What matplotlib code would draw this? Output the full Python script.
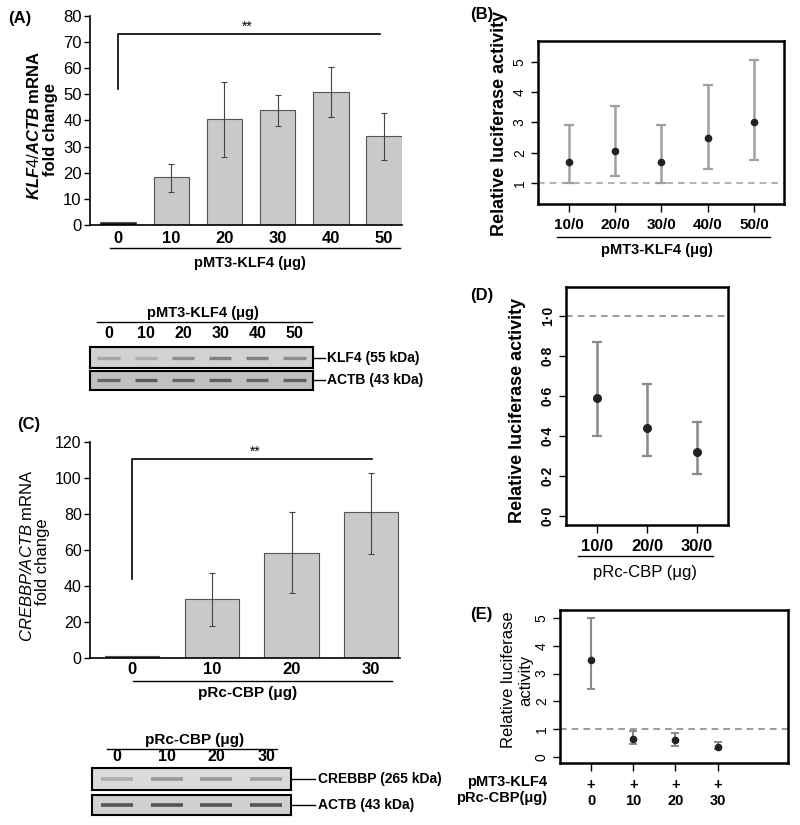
import matplotlib
matplotlib.use("Agg")
import matplotlib.pyplot as plt
from matplotlib.lines import Line2D
import numpy as np

plt.rcParams['font.family'] = ['Liberation Sans', 'DejaVu Sans']
plt.rcParams['mathtext.fontset'] = 'custom'
plt.rcParams['mathtext.it'] = 'Liberation Sans:italic:bold'
plt.rcParams['mathtext.sf'] = 'Liberation Sans:italic'
plt.rcParams['mathtext.rm'] = 'Liberation Sans'

# ---------------- data ----------------
a_doses = ['0', '10', '20', '30', '40', '50']
a_mean = [1, 18.3, 40.5, 44, 51, 34]
a_low = [np.nan, 12.5, 26, 38, 41.5, 25]
a_high = [np.nan, 23.5, 54.7, 49.7, 60.3, 43]

b_labels = ['10/0', '20/0', '30/0', '40/0', '50/0']
b_mean = [1.7, 2.07, 1.7, 2.5, 3.0]
b_low = [1.0, 1.22, 1.0, 1.45, 1.75]
b_high = [2.9, 3.55, 2.9, 4.25, 5.07]

c_doses = ['0', '10', '20', '30']
c_mean = [1, 33, 58.5, 81]
c_low = [np.nan, 18, 36, 58]
c_high = [np.nan, 47.5, 81, 103]

d_labels = ['10/0', '20/0', '30/0']
d_mean = [0.59, 0.44, 0.32]
d_low = [0.40, 0.30, 0.21]
d_high = [0.87, 0.66, 0.47]

e_klf4 = ['+', '+', '+', '+']
e_cbp = ['0', '10', '20', '30']
e_mean = [3.5, 0.65, 0.6, 0.37]
e_low = [2.45, 0.45, 0.4, 0.27]
e_high = [5.0, 0.95, 0.85, 0.52]

# western blot band intensities (0..1)
klf4_band = [0.25, 0.2, 0.45, 0.55, 0.55, 0.45]
actb_a_band = [0.75, 0.85, 0.75, 0.8, 0.75, 0.8]
crebbp_band = [0.2, 0.35, 0.35, 0.3]
actb_c_band = [0.9, 0.9, 0.9, 0.9]

W, H = 800, 825
fig = plt.figure(figsize=(8, 8.25), dpi=100)


def pax(x0, y0, x1, y1):
    return fig.add_axes([x0 / W, 1 - y1 / H, (x1 - x0) / W, (y1 - y0) / H])


def ftext(x, y, s, **kw):
    kw.setdefault('ha', 'center')
    kw.setdefault('va', 'center')
    fig.text(x / W, 1 - y / H, s, **kw)


def fline(x0, x1, y, lw=1.0):
    fig.add_artist(Line2D([x0 / W, x1 / W], [1 - y / H, 1 - y / H], color='k', lw=lw))


def err(mean, low, high):
    m = np.array(mean, float)
    return [m - np.array(low, float), np.array(high, float) - m]


# ---------------- Panel A ----------------
axA = pax(90, 16, 402, 225)
xa = np.arange(len(a_doses))
axA.bar(xa, a_mean, width=0.67, color=['#1a1a1a'] + ['#c9c9c9'] * 5,
        edgecolor='#555555', linewidth=0.8)
axA.errorbar(xa, a_mean, yerr=err(a_mean, a_low, a_high), fmt='none',
             ecolor='#444444', elinewidth=0.8, capsize=2.5, capthick=0.8)
axA.set_xlim(-0.53, 5.34)
axA.set_ylim(0, 80)
axA.set_yticks(range(0, 81, 10))
axA.set_xticks(xa, a_doses, fontweight='bold', fontsize=12)
axA.tick_params(axis='x', length=0, pad=4)
axA.tick_params(axis='y', length=4, width=1, labelsize=12, pad=2)
for s in ['top', 'right']:
    axA.spines[s].set_visible(False)
axA.spines['left'].set_linewidth(1.2)
axA.spines['bottom'].set_linewidth(1.2)
axA.plot([0, 0, 4.93], [52, 73, 73], color='k', lw=1.2, clip_on=False)
axA.text(2.43, 73.3, '**', ha='center', va='bottom', fontsize=10)
ftext(34, 125, r'$\mathit{KLF4/ACTB}$ mRNA', rotation=90, fontweight='bold', fontsize=12)
ftext(50, 129, 'fold change', rotation=90, fontweight='bold', fontsize=12)
fline(110, 400, 248)
ftext(250, 263, 'pMT3-KLF4 (μg)', fontweight='bold', fontsize=10.5)
ftext(8, 19, '(A)', ha='left', fontweight='bold', fontsize=12)

# ---------------- Panel B ----------------
axB = pax(538, 41, 784, 204)
xb = np.arange(1, len(b_labels) + 1)
axB.axhline(1, color='#a5a5a5', ls=(0, (4, 3)), lw=1.2)
axB.errorbar(xb, b_mean, yerr=err(b_mean, b_low, b_high), fmt='none',
             ecolor='#a0a0a0', elinewidth=1.8, capsize=3.5, capthick=1.6)
axB.plot(xb, b_mean, 'o', color='#222222', ms=4.5)
axB.set_xlim(0.33, 5.65)
axB.set_ylim(0.306, 5.69)
axB.set_yticks(range(1, 6))
axB.set_yticklabels([str(v) for v in range(1, 6)], rotation=90, va='center', fontsize=10)
axB.set_xticks(xb, b_labels, fontweight='bold', fontsize=11)
axB.tick_params(axis='y', length=5, width=1, pad=3)
axB.tick_params(axis='x', length=6, width=1, pad=4)
for s in axB.spines.values():
    s.set_linewidth(1.8)
ftext(500, 123, 'Relative luciferase activity', rotation=90, fontweight='bold', fontsize=13)
fline(557, 770, 237)
ftext(657, 250, 'pMT3-KLF4 (μg)', fontweight='bold', fontsize=10.5)
ftext(470, 15, '(B)', ha='left', fontweight='bold', fontsize=12)

# ---------------- Western blot A ----------------
lanesA = np.arange(len(a_doses))
blotA1 = pax(90, 347, 313, 368)
blotA2 = pax(90, 371, 313, 390)
for ax, bands, bg in [(blotA1, klf4_band, '#d2d2d2'), (blotA2, actb_a_band, '#c0c0c0')]:
    ax.set_facecolor(bg)
    ax.set_xlim(-0.5, len(bands) - 0.5)
    ax.set_ylim(-1, 1)
    for i, v in enumerate(bands):
        g = 0.78 - 0.5 * v
        ax.hlines(0, i - 0.3, i + 0.3, color=(g, g, g), lw=2.4)
    ax.set_yticks([])
    for s in ax.spines.values():
        s.set_linewidth(1.5)
blotA2.set_xticks([])
blotA1.xaxis.tick_top()
blotA1.set_xticks(lanesA, a_doses, fontweight='bold', fontsize=11.5)
blotA1.tick_params(axis='x', length=0, pad=4)
fline(97, 312, 322)
ftext(203, 313, 'pMT3-KLF4 (μg)', fontweight='bold', fontsize=10.5)
fline(313, 325, 358)
ftext(327, 358, 'KLF4 (55 kDa)', ha='left', fontweight='bold', fontsize=10)
fline(313, 325, 380)
ftext(327, 380, 'ACTB (43 kDa)', ha='left', fontweight='bold', fontsize=10)

# ---------------- Panel C ----------------
axC = pax(90, 442, 400, 658)
xc = np.arange(len(c_doses))
axC.bar(xc, c_mean, width=0.68, color=['#1a1a1a'] + ['#c9c9c9'] * 3,
        edgecolor='#555555', linewidth=0.8)
axC.errorbar(xc, c_mean, yerr=err(c_mean, c_low, c_high), fmt='none',
             ecolor='#444444', elinewidth=0.8, capsize=2.5, capthick=0.8)
axC.set_xlim(-0.527, 3.36)
axC.set_ylim(0, 120)
axC.set_yticks(range(0, 121, 20))
axC.set_xticks(xc, c_doses, fontweight='bold', fontsize=12)
axC.tick_params(axis='x', length=0, pad=3)
axC.tick_params(axis='y', length=4, width=1, labelsize=11.5, pad=2)
for s in ['top', 'right']:
    axC.spines[s].set_visible(False)
axC.spines['left'].set_linewidth(1.2)
axC.spines['bottom'].set_linewidth(1.2)
axC.plot([0, 0, 3.01], [44, 110.5, 110.5], color='k', lw=1.2, clip_on=False)
axC.text(1.54, 110.8, '**', ha='center', va='bottom', fontsize=10)
ftext(27, 556, r'$\mathsf{CREBBP/ACTB}$ mRNA', rotation=90, fontsize=12)
ftext(43, 562, 'fold change', rotation=90, fontsize=12)
fline(133, 392, 681)
ftext(248, 693, 'pRc-CBP (μg)', fontweight='bold', fontsize=11)
ftext(17, 425, '(C)', ha='left', fontweight='bold', fontsize=12)

# ---------------- Western blot C ----------------
lanesC = np.arange(len(c_doses))
blotC1 = pax(92, 768, 291, 790)
blotC2 = pax(92, 795, 291, 815)
for ax, bands, bg in [(blotC1, crebbp_band, '#dadada'), (blotC2, actb_c_band, '#d0d0d0')]:
    ax.set_facecolor(bg)
    ax.set_xlim(-0.5, len(bands) - 0.5)
    ax.set_ylim(-1, 1)
    for i, v in enumerate(bands):
        g = 0.78 - 0.5 * v
        ax.hlines(0, i - 0.32, i + 0.32, color=(g, g, g), lw=2.6)
    ax.set_yticks([])
    for s in ax.spines.values():
        s.set_linewidth(1.5)
blotC2.set_xticks([])
blotC1.xaxis.tick_top()
blotC1.set_xticks(lanesC, c_doses, fontweight='bold', fontsize=11.5)
blotC1.tick_params(axis='x', length=0, pad=3)
fline(107, 277, 749)
ftext(195, 740, 'pRc-CBP (μg)', fontweight='bold', fontsize=11)
fline(291, 315, 779)
ftext(318, 779, 'CREBBP (265 kDa)', ha='left', fontweight='bold', fontsize=10)
fline(291, 315, 805)
ftext(318, 805, 'ACTB (43 kDa)', ha='left', fontweight='bold', fontsize=10)

# ---------------- Panel D ----------------
axD = pax(566, 287, 728, 525)
xd = np.arange(1, len(d_labels) + 1)
axD.axhline(1, color='#8a8a8a', ls=(0, (4, 3)), lw=1.2)
axD.errorbar(xd, d_mean, yerr=err(d_mean, d_low, d_high), fmt='none',
             ecolor='#8a8a8a', elinewidth=1.8, capsize=3.5, capthick=1.6)
axD.plot(xd, d_mean, 'o', color='#222222', ms=5.5)
axD.set_xlim(0.38, 3.62)
axD.set_ylim(-0.045, 1.145)
dticks = np.arange(0, 1.01, 0.2)
axD.set_yticks(dticks)
axD.set_yticklabels([f'{v:.1f}'.replace('.', '·') for v in dticks], rotation=90,
                    va='center', fontsize=10, fontweight='bold')
axD.set_xticks(xd, d_labels, fontweight='bold', fontsize=12)
axD.tick_params(axis='y', length=5, width=1, pad=3)
axD.tick_params(axis='x', length=6, width=1, pad=4)
for s in axD.spines.values():
    s.set_linewidth(1.8)
ftext(517, 410, 'Relative luciferase activity', rotation=90, fontweight='bold', fontsize=13)
fline(578, 713, 556)
ftext(645, 572, 'pRc-CBP (μg)', fontsize=12)
ftext(470, 295, '(D)', ha='left', fontweight='bold', fontsize=12)

# ---------------- Panel E ----------------
axE = pax(560, 610, 788, 763)
xe = np.arange(1, len(e_cbp) + 1)
axE.axhline(1, color='#8a8a8a', ls=(0, (4, 3)), lw=1.2)
axE.errorbar(xe, e_mean, yerr=err(e_mean, e_low, e_high), fmt='none',
             ecolor='#8a8a8a', elinewidth=1.5, capsize=3, capthick=1.4)
axE.plot(xe, e_mean, 'o', color='#222222', ms=4.5)
axE.set_xlim(0.26, 5.67)
axE.set_ylim(-0.22, 5.29)
axE.set_yticks(range(0, 6))
axE.set_yticklabels([str(v) for v in range(0, 6)], rotation=90, va='center', fontsize=10)
axE.set_xticks(xe, [f'{k}\n{c}' for k, c in zip(e_klf4, e_cbp)],
               fontweight='bold', fontsize=10.5, linespacing=1.2)
axE.tick_params(axis='y', length=5, width=1, pad=3)
axE.tick_params(axis='x', length=6, width=1, pad=5)
for s in axE.spines.values():
    s.set_linewidth(1.8)
ftext(517, 680, 'Relative luciferase\nactivity', rotation=90, fontsize=12, multialignment='center')
ftext(547, 782, 'pMT3-KLF4', ha='right', fontweight='bold', fontsize=10.5)
ftext(547, 798, 'pRc-CBP(μg)', ha='right', fontweight='bold', fontsize=10.5)
ftext(470, 615, '(E)', ha='left', fontweight='bold', fontsize=12)

fig.savefig('out.png', dpi=100)
